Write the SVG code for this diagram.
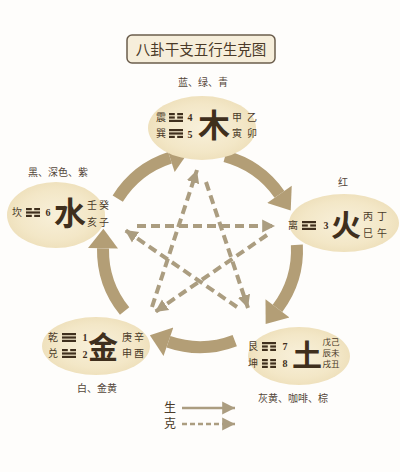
<svg xmlns="http://www.w3.org/2000/svg" xmlns:xlink="http://www.w3.org/1999/xlink" width="400" height="472" viewBox="0 0 400 472">
<defs>
<style>
.t{font-family:"Noto Sans CJK SC","Noto Sans CJK TC",sans-serif;fill:#4a3a28;text-anchor:middle}
.s{font-size:10px}
.c{font-size:10px;fill:#54463a}
.big{font-weight:bold;fill:#3f2f1d}
.n{font-family:"Liberation Serif",serif;font-size:10px;font-weight:bold;fill:#3f2f1d;text-anchor:middle}
.node ellipse{fill:url(#eg)}
.tri{fill:#3f2f1d}
.arc{fill:none;stroke:#b39e76;stroke-width:12}
.ke{fill:none;stroke:#ab9d80;stroke-width:4;stroke-dasharray:9 5}
</style>
<radialGradient id="eg" cx="50%" cy="50%" r="50%">
<stop offset="0" stop-color="#f8f0da"/>
<stop offset="0.75" stop-color="#f3e7c7"/>
<stop offset="1" stop-color="#efe1bd"/>
</radialGradient>
<marker id="ah" markerUnits="userSpaceOnUse" markerWidth="30" markerHeight="30" refX="0" refY="13" orient="auto" viewBox="0 0 18 26">
<path d="M0,0 L17,13 L0,26 z" fill="#b39e76"/>
</marker>
<marker id="dh" markerUnits="userSpaceOnUse" markerWidth="14" markerHeight="14" refX="11" refY="5.5" orient="auto" viewBox="0 0 12 11">
<path d="M0,0 L11,5.5 L0,11 z" fill="#ab9d80"/>
</marker>
<g id="yang"><rect x="0" y="0" width="14" height="2.2"/></g>
<g id="yin"><rect x="0" y="0" width="5.8" height="2.2"/><rect x="8.2" y="0" width="5.8" height="2.2"/></g>
</defs>
<rect width="400" height="472" fill="#fefdfb"/>

<g id="title">
<rect x="127" y="35" width="148" height="28" rx="5" fill="#f6eedb" stroke="#6b5d4c" stroke-width="1.5"/>
<text class="t" x="201" y="55" font-size="14.5" fill="#3f2f1d">八卦干支五行生克图</text>
</g>

<g id="connectors">
<path class="arc" d="M117.74,198.60 A97,97 0 0 1 170.03,157.74" marker-end="url(#ah)"/>
<path class="arc" d="M225.10,156.30 A97,97 0 0 1 279.46,194.36" marker-end="url(#ah)"/>
<path class="arc" d="M296.87,244.92 A97,97 0 0 1 277.47,308.38" marker-end="url(#ah)"/>
<path class="arc" d="M234.76,340.56 A97,97 0 0 1 168.42,341.71" marker-end="url(#ah)"/>
<path class="arc" d="M124.62,311.04 A97,97 0 0 1 103.01,248.31" marker-end="url(#ah)"/>
<line class="ke" x1="137" y1="226" x2="275" y2="226" marker-end="url(#dh)"/>
<line class="ke" x1="206" y1="182" x2="248" y2="308" marker-end="url(#dh)"/>
<line class="ke" x1="152" y1="307" x2="197" y2="170" marker-end="url(#dh)"/>
<line class="ke" x1="267" y1="235" x2="155" y2="312" marker-end="url(#dh)"/>
<line class="ke" x1="237" y1="307" x2="125" y2="230" marker-end="url(#dh)"/>
</g>

<g id="wood" class="node">
<text class="t c" x="203" y="86">蓝、绿、青</text>
<ellipse cx="202" cy="128" rx="54" ry="32"/>
<text class="t s" x="161" y="121">震</text>
<text class="t s" x="161" y="137">巽</text>
<g class="tri"><use href="#yin" x="169" y="113"/><use href="#yin" x="169" y="116.4"/><use href="#yang" x="169" y="119.8"/>
<use href="#yang" x="169" y="129"/><use href="#yang" x="169" y="132.4"/><use href="#yin" x="169" y="135.8"/></g>
<text class="n" x="190" y="121">4</text>
<text class="n" x="190" y="138">5</text>
<text class="t big" x="214" y="137" font-size="32">木</text>
<text class="t s" x="237" y="121">甲</text>
<text class="t s" x="252" y="121">乙</text>
<text class="t s" x="237" y="137">寅</text>
<text class="t s" x="252" y="137">卯</text>
</g>

<g id="water" class="node">
<text class="t c" x="58" y="176">黑、深色、紫</text>
<ellipse cx="56" cy="215" rx="49" ry="33"/>
<text class="t s" x="17" y="216">坎</text>
<g class="tri"><use href="#yin" x="26" y="208"/><use href="#yang" x="26" y="211.4"/><use href="#yin" x="26" y="214.8"/></g>
<text class="n" x="48" y="216">6</text>
<text class="t big" x="70" y="225" font-size="32">水</text>
<text class="t s" x="92" y="209">壬</text>
<text class="t s" x="104" y="209">癸</text>
<text class="t s" x="92" y="226">亥</text>
<text class="t s" x="104" y="226">子</text>
</g>

<g id="fire" class="node">
<text class="t c" x="343" y="186">红</text>
<ellipse cx="344" cy="223" rx="55" ry="29"/>
<text class="t s" x="293" y="229">离</text>
<g class="tri"><use href="#yang" x="302" y="221"/><use href="#yin" x="302" y="224.4"/><use href="#yang" x="302" y="227.8"/></g>
<text class="n" x="326" y="229">3</text>
<text class="t big" x="346" y="236" font-size="30">火</text>
<text class="t s" x="368" y="220">丙</text>
<text class="t s" x="382" y="220">丁</text>
<text class="t s" x="368" y="237">巳</text>
<text class="t s" x="382" y="237">午</text>
</g>

<g id="earth" class="node">
<ellipse cx="299" cy="356" rx="51" ry="29"/>
<text class="t s" x="253" y="350">艮</text>
<text class="t s" x="253" y="367">坤</text>
<g class="tri"><use href="#yang" x="262" y="342"/><use href="#yin" x="262" y="345.4"/><use href="#yin" x="262" y="348.8"/>
<use href="#yin" x="262" y="359"/><use href="#yin" x="262" y="362.4"/><use href="#yin" x="262" y="365.8"/></g>
<text class="n" x="285" y="350">7</text>
<text class="n" x="285" y="367">8</text>
<text class="t big" x="307" y="366" font-size="30">土</text>
<text class="t" x="331" y="345" font-size="8.5">戊己</text>
<text class="t" x="331" y="356" font-size="8.5">辰未</text>
<text class="t" x="331" y="367" font-size="8.5">戌丑</text>
<text class="t c" x="293" y="402">灰黄、咖啡、棕</text>
</g>

<g id="metal" class="node">
<ellipse cx="96" cy="346" rx="54" ry="29"/>
<text class="t s" x="53" y="341">乾</text>
<text class="t s" x="53" y="357">兑</text>
<g class="tri"><use href="#yang" x="62" y="333"/><use href="#yang" x="62" y="336.4"/><use href="#yang" x="62" y="339.8"/>
<use href="#yin" x="62" y="349"/><use href="#yang" x="62" y="352.4"/><use href="#yang" x="62" y="355.8"/></g>
<text class="n" x="85" y="341">1</text>
<text class="n" x="85" y="358">2</text>
<text class="t big" x="103" y="358" font-size="30">金</text>
<text class="t s" x="127" y="341">庚</text>
<text class="t s" x="139" y="341">辛</text>
<text class="t s" x="127" y="357">申</text>
<text class="t s" x="139" y="357">酉</text>
<text class="t c" x="97" y="392">白、金黄</text>
</g>

<g id="legend">
<text class="t" x="170" y="412" font-size="12" fill="#3f2f1d">生</text>
<text class="t" x="170" y="428" font-size="12" fill="#3f2f1d">克</text>
<line x1="182" y1="408" x2="235" y2="408" stroke="#ab9d80" stroke-width="2.6" marker-end="url(#dh)"/>
<line x1="182" y1="424" x2="235" y2="424" stroke="#ab9d80" stroke-width="2.6" stroke-dasharray="5 3" marker-end="url(#dh)"/>
</g>
</svg>
